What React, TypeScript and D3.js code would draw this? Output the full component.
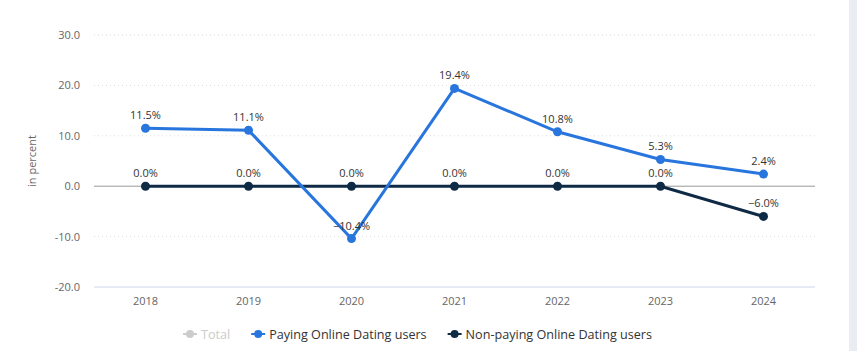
import React, { useRef, useEffect } from "react";
import * as d3 from "d3";

const years = ["2018", "2019", "2020", "2021", "2022", "2023", "2024"];
const paying = [11.5, 11.1, -10.4, 19.4, 10.8, 5.3, 2.4];
const nonPaying = [0.0, 0.0, 0.0, 0.0, 0.0, 0.0, -6.0];
const yTicks = [-20, -10, 0, 10, 20, 30];

const legendItems = [
  { name: "Total", color: "#cccccc", text: "#cccccc" },
  { name: "Paying Online Dating users", color: "#2876dd", text: "#333333" },
  { name: "Non-paying Online Dating users", color: "#0f2a45", text: "#333333" },
];

const App = () => {
  const ref = useRef<SVGSVGElement>(null);

  useEffect(() => {
    const width = 857;
    const height = 351;
    const margin = { top: 35, right: 42, bottom: 64, left: 94 };
    const font = "'Open Sans', sans-serif";

    const svg = d3.select(ref.current).attr("width", width).attr("height", height);
    svg.selectAll("*").remove();

    // scrollbar-like strip at right
    svg.append("rect").attr("x", 849).attr("y", 0).attr("width", 8).attr("height", height).attr("fill", "#e9edf3");

    const x = d3.scaleBand().domain(years).range([margin.left, width - margin.right]);
    const y = d3.scaleLinear().domain([-20, 30]).range([height - margin.bottom, margin.top]);
    const cx = (d: string) => (x(d) as number) + x.bandwidth() / 2;

    // gridlines
    yTicks.forEach((t) => {
      if (t === 0 || t === -20) return;
      svg.append("line")
        .attr("x1", margin.left).attr("x2", width - margin.right)
        .attr("y1", y(t)).attr("y2", y(t))
        .attr("stroke", "#dddddd").attr("stroke-width", 1).attr("stroke-dasharray", "1,3");
    });
    // zero line
    svg.append("line")
      .attr("x1", margin.left).attr("x2", width - margin.right)
      .attr("y1", y(0)).attr("y2", y(0))
      .attr("stroke", "#999999").attr("stroke-width", 1);
    // bottom axis line
    svg.append("line")
      .attr("x1", margin.left).attr("x2", width - margin.right)
      .attr("y1", y(-20)).attr("y2", y(-20))
      .attr("stroke", "#ccd6eb").attr("stroke-width", 1);

    // y tick labels
    svg.selectAll("text.ytick").data(yTicks).enter().append("text")
      .attr("class", "ytick")
      .attr("x", 80).attr("y", (d) => y(d) + 4)
      .attr("text-anchor", "end")
      .style("font-family", font).style("font-size", "11px").style("fill", "#666666")
      .text((d) => d.toFixed(1));

    // y axis title
    svg.append("text")
      .attr("transform", `translate(36, ${y(5)}) rotate(-90)`)
      .attr("text-anchor", "middle")
      .style("font-family", font).style("font-size", "11px").style("fill", "#666666")
      .text("in percent");

    // x labels
    svg.selectAll("text.xtick").data(years).enter().append("text")
      .attr("class", "xtick")
      .attr("x", (d) => cx(d)).attr("y", y(-20) + 18)
      .attr("text-anchor", "middle")
      .style("font-family", font).style("font-size", "11px").style("fill", "#666666")
      .text((d) => d);

    const line = d3.line<number>().x((d, i) => cx(years[i])).y((d) => y(d));

    const series = [
      { values: nonPaying, color: "#0f2a45" },
      { values: paying, color: "#2876dd" },
    ];

    series.forEach((s) => {
      svg.append("path").datum(s.values)
        .attr("d", line).attr("fill", "none")
        .attr("stroke", s.color).attr("stroke-width", 3);
      svg.selectAll(null).data(s.values).enter().append("circle")
        .attr("cx", (d, i) => cx(years[i])).attr("cy", (d) => y(d))
        .attr("r", 4.5).attr("fill", s.color);
    });

    series.forEach((s) => {
      svg.selectAll(null).data(s.values).enter().append("text")
        .attr("x", (d, i) => cx(years[i])).attr("y", (d) => y(d) - 9)
        .attr("text-anchor", "middle")
        .style("font-family", font).style("font-size", "11px").style("fill", "#333333")
        .text((d) => (d < 0 ? "\u2212" + Math.abs(d).toFixed(1) : d.toFixed(1)) + "%");
    });

    // legend
    const lg = svg.append("g").attr("transform", `translate(0, ${334})`);
    let lx = 183;
    legendItems.forEach((it) => {
      const g = lg.append("g").attr("transform", `translate(${lx}, 0)`);
      g.append("line").attr("x1", 0).attr("x2", 14).attr("y1", 0).attr("y2", 0)
        .attr("stroke", it.color).attr("stroke-width", 2);
      g.append("circle").attr("cx", 7).attr("cy", 0).attr("r", 4).attr("fill", it.color);
      const t = g.append("text").attr("x", 18).attr("y", 4.5)
        .style("font-family", font).style("font-size", "12.6px")
        .style("fill", it.text)
        .text(it.name);
      const w = (t.node() as SVGTextElement).getComputedTextLength();
      lx += 18 + w + 21;
    });
  }, []);

  return (
    <div style={{ position: "absolute", left: 0, top: 0 }}>
      <svg ref={ref}></svg>
    </div>
  );
};

export default App;
